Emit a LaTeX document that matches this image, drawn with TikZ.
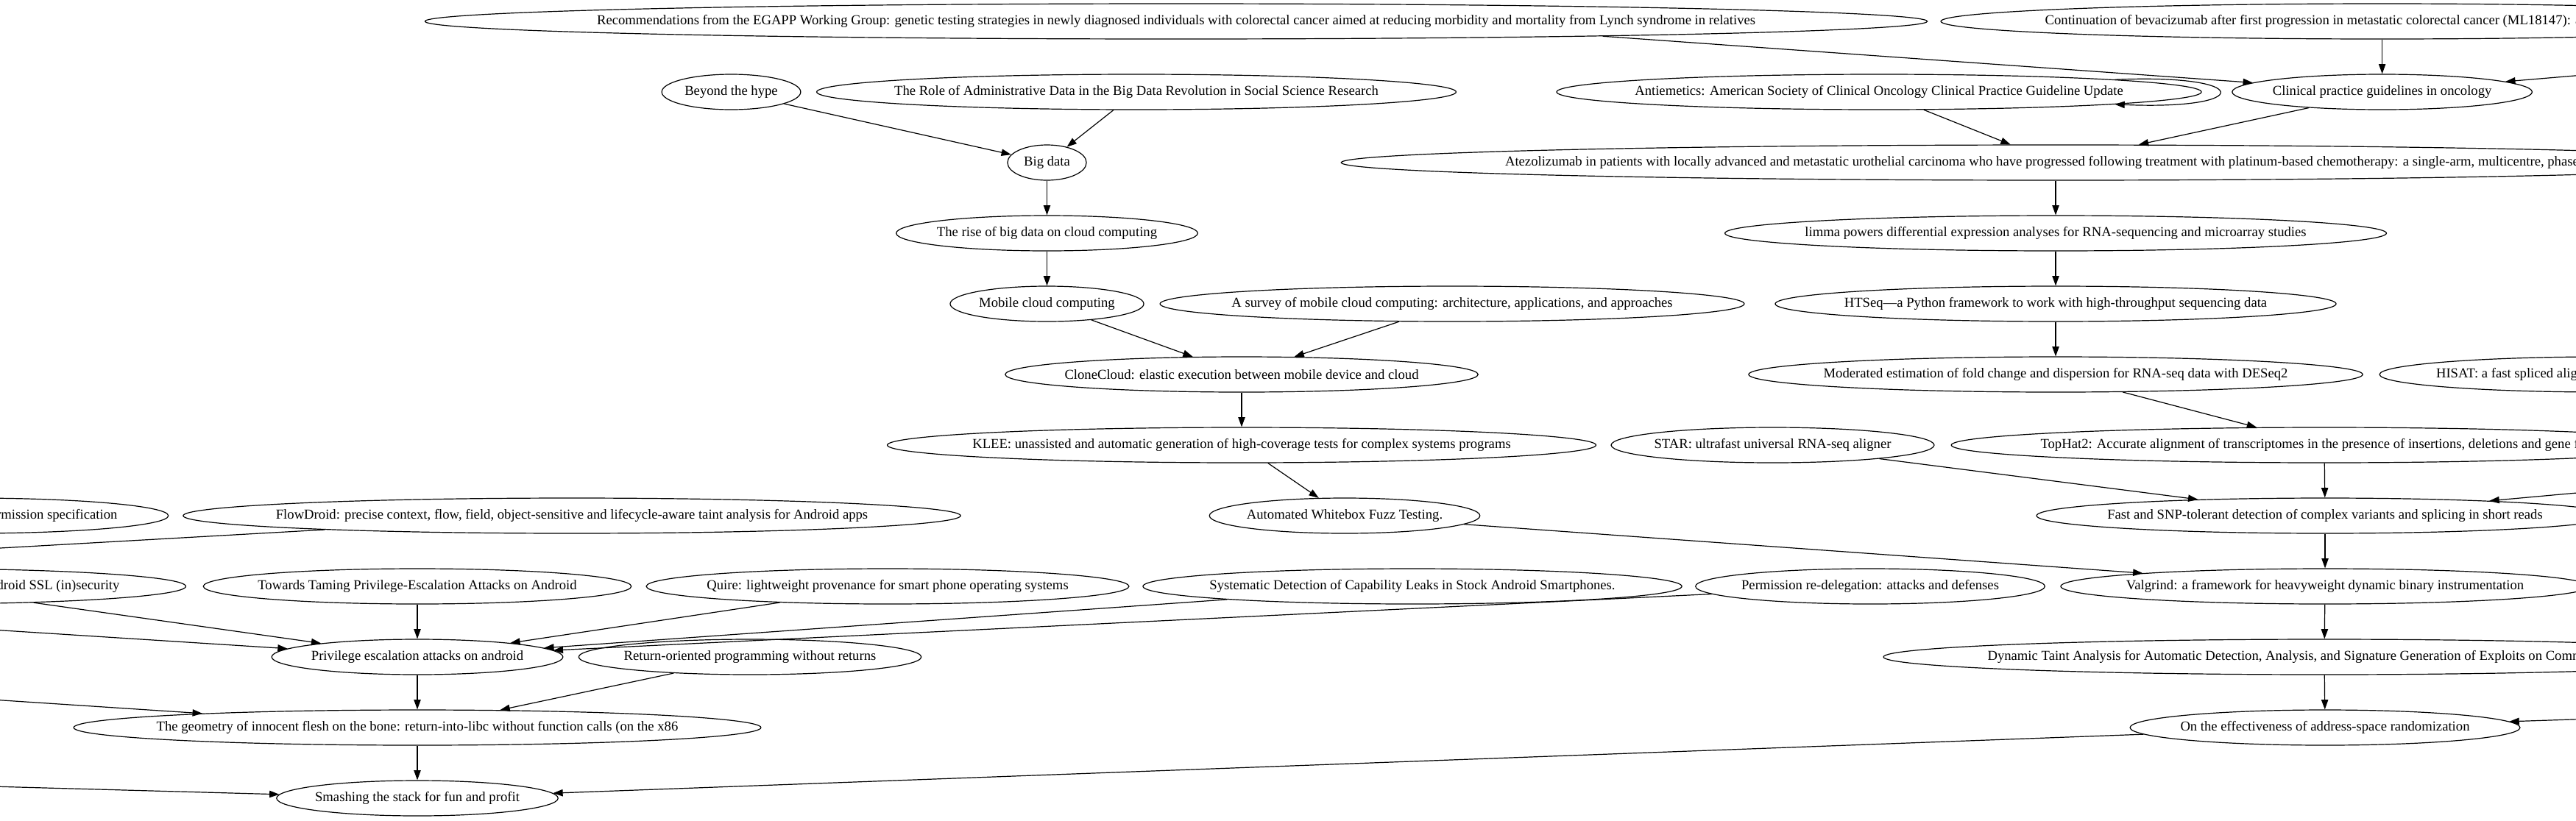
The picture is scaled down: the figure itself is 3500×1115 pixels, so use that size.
\documentclass[tikz,border=0pt]{standalone}
\usepackage{fontspec}
\setmainfont{Liberation Serif}
\usetikzlibrary{shapes.geometric,arrows.meta}
\newlength\gvpx
\setlength\gvpx{0.75pt}
% ellipse width as graphviz sets it
\newcommand\ttl[1]{\makebox[\dimexpr 0.905\width+19\gvpx\relax]{#1}}
\newcommand\cutr[2]{\ttl{\makebox[#1\gvpx][l]{#2}}}
\newcommand\cutl[2]{\ttl{\makebox[#1\gvpx][r]{#2}}}
\begin{document}
\begin{tikzpicture}[x=0.75pt,y=-0.75pt]
            \tikzstyle{every node}+=[inner sep=0pt]
            \tikzstyle{paper}=[draw, ellipse, minimum height=36pt, line width=0.9pt, font=\fontsize{14pt}{16.8pt}\selectfont]
            \tikzstyle{edge}=[line width=0.9pt, -{Triangle[length=10pt,width=7pt]}]
            \useasboundingbox (0,0) rectangle (3500,1115);
            \clip (0,0) rectangle (3500,1115);
            \node [paper] (egapp) at (1598,29) {\ttl{Recommendations from the EGAPP Working Group: genetic testing strategies in newly diagnosed individuals with colorectal cancer aimed at reducing morbidity and mortality from Lynch syndrome in relatives}};
            \node [paper] (contin) at (3236.6,29) {\cutr{916}{Continuation of bevacizumab after first progression in metastatic colorectal cancer (ML18147): a}};
            \node [paper] (beyond) at (993.5,125) {\ttl{Beyond the hype}};
            \node [paper] (admin) at (1544,125) {\ttl{The Role of Administrative Data in the Big Data Revolution in Social Science Research}};
            \node [paper] (anti) at (2553,125) {\ttl{Antiemetics: American Society of Clinical Oncology Clinical Practice Guideline Update}};
            \node [paper] (clinical) at (3236.6,125) {\ttl{Clinical practice guidelines in oncology}};
            \node [paper] (bigdata) at (1422.5,221) {\ttl{Big data}};
            \node [paper] (atezo) at (2793,221) {\cutr{1496}{Atezolizumab in patients with locally advanced and metastatic urothelial carcinoma who have progressed following treatment with platinum-based chemotherapy: a single-arm, multicentre, phase}};
            \node [paper] (rise) at (1422.5,317) {\ttl{The rise of big data on cloud computing}};
            \node [paper] (limma) at (2793,317) {\ttl{limma powers differential expression analyses for RNA-sequencing and microarray studies}};
            \node [paper] (mobile) at (1422.5,413) {\ttl{Mobile cloud computing}};
            \node [paper] (survey) at (1973,413) {\ttl{A survey of mobile cloud computing: architecture, applications, and approaches}};
            \node [paper] (htseq) at (2793,413) {\ttl{HTSeq---a Python framework to work with high-throughput sequencing data}};
            \node [paper] (clone) at (1687,509) {\ttl{CloneCloud: elastic execution between mobile device and cloud}};
            \node [paper] (deseq) at (2793,509) {\ttl{Moderated estimation of fold change and dispersion for RNA-seq data with DESeq2}};
            \node [paper] (hisat) at (3537,509) {\cutr{454}{HISAT: a fast spliced aligner}};
            \node [paper] (klee) at (1687,605) {\ttl{KLEE: unassisted and automatic generation of high-coverage tests for complex systems programs}};
            \node [paper] (star) at (2408.5,605) {\ttl{STAR: ultrafast universal RNA-seq aligner}};
            \node [paper] (tophat) at (3158,605) {\cutr{771}{TopHat2: Accurate alignment of transcriptomes in the presence of insertions, deletions and gene fusions}};
            \node [paper] (pscout) at (-40,701) {\cutl{399}{permission specification}};
            \node [paper] (flowdroid) at (777,701) {\ttl{FlowDroid: precise context, flow, field, object-sensitive and lifecycle-aware taint analysis for Android apps}};
            \node [paper] (fuzz) at (1827,701) {\ttl{Automated Whitebox Fuzz Testing.}};
            \node [paper] (snp) at (3159,701) {\ttl{Fast and SNP-tolerant detection of complex variants and splicing in short reads}};
            \node [paper] (ssl) at (-111,797) {\cutl{547}{Android SSL (in)security}};
            \node [paper] (taming) at (567,797) {\ttl{Towards Taming Privilege-Escalation Attacks on Android}};
            \node [paper] (quire) at (1206,797) {\ttl{Quire: lightweight provenance for smart phone operating systems}};
            \node [paper] (leaks) at (1919,797) {\ttl{Systematic Detection of Capability Leaks in Stock Android Smartphones.}};
            \node [paper] (redeleg) at (2541,797) {\ttl{Permission re-delegation: attacks and defenses}};
            \node [paper] (valgrind) at (3159,797) {\ttl{Valgrind: a framework for heavyweight dynamic binary instrumentation}};
            \node [paper] (privesc) at (567,893) {\ttl{Privilege escalation attacks on android}};
            \node [paper] (rop) at (1019,893) {\ttl{Return-oriented programming without returns}};
            \node [paper] (taint) at (3158,893) {\cutr{915}{Dynamic Taint Analysis for Automatic Detection, Analysis, and Signature Generation of Exploits on Commodity}};
            \node [paper] (geometry) at (567,989) {\ttl{The geometry of innocent flesh on the bone: return-into-libc without function calls (on the x86}};
            \node [paper] (aslr) at (3159,989) {\ttl{On the effectiveness of address-space randomization}};
            \node [paper] (smash) at (567,1085) {\ttl{Smashing the stack for fun and profit}};
            % ends outside the frame
            \coordinate (offa) at (3700,86);
            \coordinate (offb) at (3700,652);
            \coordinate (offc) at (3800,968);
            \coordinate (offd) at (-300,1061);
            \coordinate (offe) at (-300,932);
            \coordinate (offf) at (-300,837.5);
            \coordinate (offg) at (-300,762);
            \draw [edge] (egapp.-2) -- (clinical);
            \draw [edge] (contin) -- (clinical);
            \draw [edge] (offa) -- (clinical);
            \draw [edge] (beyond) -- (bigdata);
            \draw [edge] (admin) -- (bigdata);
            \draw [edge] (anti) -- (atezo);
            \draw [edge] (clinical) -- (atezo);
            \draw [edge] (anti.3) .. controls (3063,100) and (3063,150) .. (anti.-3);
            \draw [edge] (bigdata) -- (rise);
            \draw [edge] (atezo) -- (limma);
            \draw [edge] (rise) -- (mobile);
            \draw [edge] (limma) -- (htseq);
            \draw [edge] (mobile) -- (clone);
            \draw [edge] (survey) -- (clone);
            \draw [edge] (htseq) -- (deseq);
            \draw [edge] (clone) -- (klee);
            \draw [edge] (deseq) -- (tophat);
            \draw [edge] (klee) -- (fuzz);
            \draw [edge] (star) -- (snp);
            \draw [edge] (tophat) -- (snp);
            \draw [edge] (offb) -- (snp);
            \draw [edge] (flowdroid) -- (offg);
            \draw [edge] (fuzz) -- (valgrind);
            \draw [edge] (snp) -- (valgrind);
            \draw [edge] (ssl) -- (privesc);
            \draw [edge] (offf) -- (privesc);
            \draw [edge] (taming) -- (privesc);
            \draw [edge] (quire) -- (privesc);
            \draw [edge] (leaks) -- (privesc);
            \draw [edge] (redeleg) -- (privesc);
            \draw [edge] (valgrind) -- (taint);
            \draw [edge] (privesc) -- (geometry);
            \draw [edge] (rop) -- (geometry);
            \draw [edge] (offe) -- (geometry);
            \draw [edge] (taint) -- (aslr);
            \draw [edge] (offc) -- (aslr);
            \draw [edge] (geometry) -- (smash);
            \draw [edge] (aslr) -- (smash);
            \draw [edge] (offd) -- (smash);
\end{tikzpicture}
\end{document}
